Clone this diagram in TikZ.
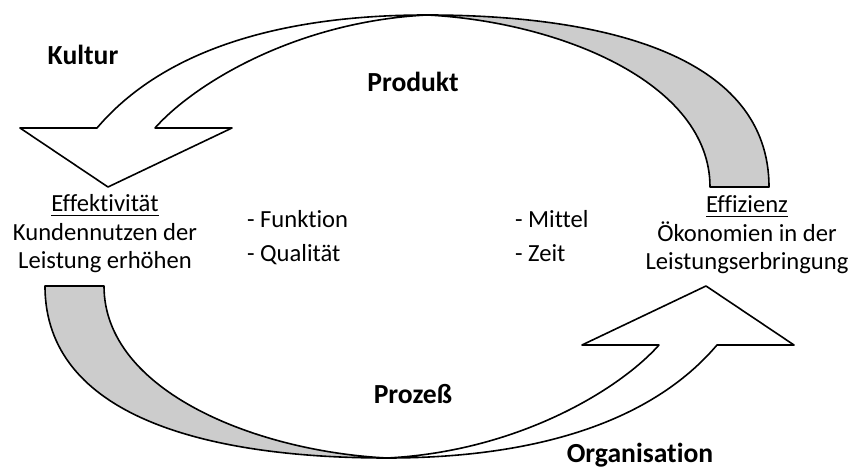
\documentclass[tikz,border=0pt]{standalone}
\usepackage{fontspec}
\setmainfont{Carlito}[Ligatures=NoCommon]
\usepackage{tikz}
\usepackage{xcolor}
\usetikzlibrary{positioning}
\definecolor{cG}{HTML}{cccccc}
\tikzset{
  band/.style={draw=black,line width=0.8pt,line join=round,fill=white},
  twist/.style={band,fill=cG},
  lbl/.style={font=\bfseries\fontsize{13.8}{16}\selectfont,anchor=base},
  txt/.style={font=\fontsize{12.3}{14.25}\selectfont,align=center,anchor=base},
  item/.style={font=\fontsize{12.3}{14.25}\selectfont,anchor=base west},
}

\begin{document}
\begin{tikzpicture}[x=0.5pt,y=0.5pt]
  \useasboundingbox (-407,-233.5) rectangle (448,236.5);
  % both twisted arrows, the lower one turned half round
  \foreach \r in {0,180}{
    \begin{scope}[rotate=\r]
      \draw[twist] (20,221.5) .. controls (200,221.5) and (362,180) .. (362,49.5)
        -- (303,49.5) .. controls (303,155) and (150,215) .. (20,221.5) -- cycle;
      \draw[band] (20,221.5) .. controls (-110,215) and (-212,153.5) .. (-252,108.5)
        -- (-175,108.5) -- (-299,49.5) -- (-387,108.5) -- (-310,108.5)
        .. controls (-245,185) and (-130,221.5) .. (20,221.5) -- cycle;
    \end{scope}}
  \node[lbl] (kultur) at (-324,171.5) {Kultur};
  \node[lbl] (produkt) at (6,144.5) {Produkt};
  \node[lbl] (prozess) at (6,-166.5) {Prozeß};
  \node[lbl] (orga) at (233,-225.5) {Organisation};
  % base of a block is the base of its last line
  \node[txt] (effekt) at (-302,-32.5) {\underline{Effektivität}\\Kundennutzen der\\Leistung erhöhen};
  \node[txt] (effiz) at (340,-33.5) {\underline{Effizienz}\\Ökonomien in der\\Leistungserbringung};
  % the four measures
  \node[item] (funk) at (-167,9) {- Funktion};
  \node[item] (qual) at (-167,-25) {- Qualität};
  \node[item] (mitt) at (101,9) {- Mittel};
  \node[item] (zeit) at (101,-25) {- Zeit};
\end{tikzpicture}
\end{document}
